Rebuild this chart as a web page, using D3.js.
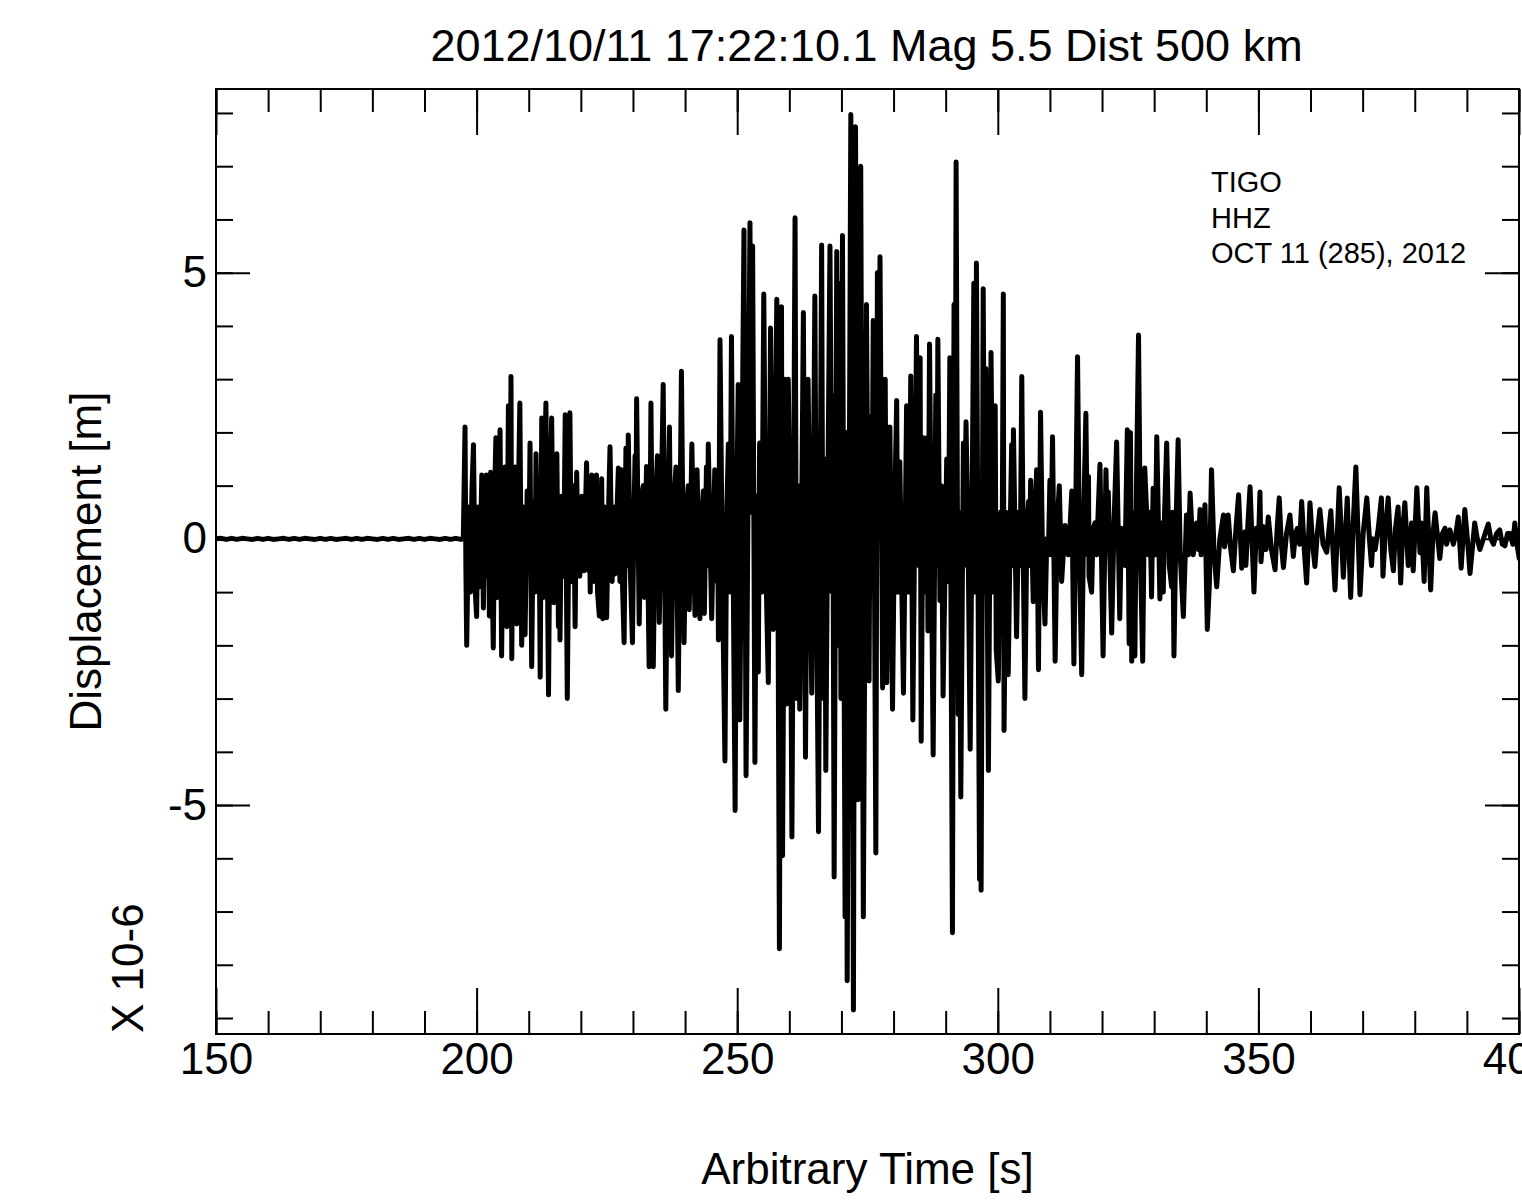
<!DOCTYPE html>
<html><head><meta charset="utf-8">
<script src="https://cdn.jsdelivr.net/npm/d3@7"></script>
<style>html,body{margin:0;padding:0;background:#fff;} svg{display:block;}</style>
</head><body>
<svg id="chart" width="1522" height="1203"></svg>
<script>
// ---------- text ----------
const titleText = "2012/10/11 17:22:10.1 Mag 5.5 Dist 500 km";
const xLabelText = "Arbitrary Time [s]";
const yLabelText = "Displacement [m]";
const yScaleText = "X 10-6";
const stationLines = ["TIGO", "HHZ", "OCT 11 (285), 2012"];
const xMajorTicks = [150, 200, 250, 300, 350, 400];
const yMajorTicks = [-5, 0, 5];

// ---------- data: [time s, displacement x1e-6 m] ----------
const preEvent = [[150,0],[151,0.01],[152,-0.01],[153,0.01],[154,-0.01],[155,0.01],[156,0],[157,-0.01],[158,0.01],[159,-0.01],[160,0.01],[161,-0.01],[162,0],[163,0.01],[164,-0.01],[165,0.01],[166,-0.01],[167,0.01],[168,0],[169,-0.01],[170,0.01],[171,-0.01],[172,0.01],[173,-0.01],[174,0],[175,0.01],[176,-0.01],[177,0.01],[178,-0.01],[179,0.01],[180,0],[181,-0.01],[182,0.01],[183,-0.01],[184,0.01],[185,-0.01],[186,0],[187,0.01],[188,-0.01],[189,0.01],[190,-0.01],[191,0.01],[192,0],[193,-0.01],[194,0.01],[195,-0.01],[196,0.01],[197,-0.01],[197.45,0]];
const seg197 = [[197.78,2.1],[197.95,-0.6],[198.1,-2.0],[198.5,0.6],[198.8,-1.0],[199.1,0.9],[199.4,1.77],[199.7,-0.9],[200.0,-1.46],[200.3,0.6],[200.6,-0.9],[201.0,1.2],[201.3,-1.3],[201.6,0.5],[201.9,1.2],[202.2,-0.7],[202.3,0.4],[202.45,-1.45],[202.7,1.25],[203.0,-0.8],[203.2,-2.05],[203.5,1.0],[203.7,1.9],[204.0,-1.1],[204.3,1.0],[204.5,2.05],[204.8,-2.2],[205.1,0.6],[205.45,1.35],[205.8,-1.65],[206.1,2.5],[206.35,-0.8],[206.6,3.05],[206.75,-2.25],[207.0,0.9],[207.4,1.35],[207.7,-1.6],[208.0,0.7],[208.3,2.55],[208.65,-2.0],[209.0,0.6],[209.3,-1.8],[209.7,0.9],[210.0,-0.6],[210.25,1.8],[210.57,-2.4],[210.9,0.7],[211.2,-1.0],[211.4,1.6],[211.8,-0.9],[212.0,0.3],[212.2,-2.6],[212.5,2.27],[212.8,-1.1],[213.0,1.0],[213.3,2.55],[213.8,-2.93],[214.1,0.8],[214.4,2.27],[214.8,-1.2],[215.1,0.9],[215.4,1.6],[215.7,-1.65],[215.85,0.5],[216.0,-1.9],[216.3,0.8],[216.7,-0.7],[217.0,2.33],[217.4,-3.0],[217.9,2.37],[218.2,-0.8],[218.6,1.0],[218.9,-1.65],[219.2,1.25],[219.5,-0.5],[219.65,0.4],[219.8,-0.7],[220.2,0.8],[220.6,-0.6],[221.1,1.43],[221.5,-0.6],[221.65,0.3],[221.8,-1.0],[222.1,1.2],[222.5,-0.8],[223.0,1.2],[223.2,-1.0],[223.55,-1.45]];
const seg224 = [[224.0,1.13],[224.2,-1.5],[224.6,0.6],[224.95,-1.48],[225.3,0.5],[225.6,1.73],[226.0,-0.8],[226.3,0.6],[226.55,-0.66],[226.9,0.4],[227.2,1.33],[227.5,-0.8],[227.8,1.3],[228.0,-0.9],[228.3,-1.95],[228.65,1.7],[228.85,-0.5],[229.1,1.95],[229.5,-0.6],[229.9,-1.95],[230.2,0.5],[230.4,1.56],[230.55,-0.3],[230.7,2.63],[231.2,-1.6],[231.6,0.8],[232.0,1.0],[232.2,-1.1],[232.6,1.36],[233.1,-2.4],[233.45,2.55],[233.9,-2.4],[234.3,0.6],[234.7,1.56],[235.05,-1.57],[235.4,0.5],[235.8,2.9],[236.3,-3.2],[236.7,0.5],[237.0,2.1],[237.4,-2.2],[237.8,0.6],[238.25,1.35],[238.7,-2.85],[239.3,3.15],[239.8,-1.95],[240.2,0.4],[240.6,1.0],[240.8,-1.33],[241.3,1.78],[241.9,-1.44],[242.3,1.3],[242.85,-1.5],[243.2,0.4],[243.5,0.9],[243.7,-1.4],[244.1,1.35],[244.3,-0.5],[244.45,1.78],[245.1,-1.5],[245.7,1.3],[246.1,-0.8],[246.25,0.3],[246.4,-1.9],[246.7,3.74],[247.2,-1.0],[247.65,-4.17],[248.0,0.5],[248.3,1.78],[248.6,-1.0],[248.9,3.8],[249.3,-1.5],[249.6,-5.1],[249.9,0.5],[250.2,2.9],[250.5,-3.4]];
const seg251 = [[251.3,5.8],[251.7,-4.45],[252.1,1.0],[252.45,5.94],[252.7,0.5],[252.96,5.5],[253.4,-4.2],[253.7,0.8],[254.05,-2.5],[254.3,1.8],[254.7,-1.0],[255.1,4.6],[255.5,-0.5],[255.97,-2.7],[256.4,3.96],[256.9,-1.7],[257.2,0.8],[257.6,4.5],[258.1,-7.7],[258.5,4.36],[258.7,-5.95],[259.2,3.0],[259.5,-3.1],[259.8,3.0],[260.2,-0.5],[260.5,-5.6],[261.1,6.03],[261.4,-3.0],[261.7,1.0],[262.0,-3.2],[262.4,0.8],[262.7,4.25],[263.1,-4.1],[263.6,3.0],[264.3,-2.9],[264.9,4.56],[265.2,-0.8],[265.6,-5.5],[266.2,5.52],[266.5,-3.0],[266.8,1.5],[267.0,-4.35],[267.4,1.0],[267.8,5.5],[268.2,-1.0],[268.3,2.7],[268.6,-6.35],[269.1,5.4],[269.4,-2.0],[269.7,4.8],[269.9,-3.0],[270.2,5.7],[270.7,-7.1],[270.9,2.0],[271.1,-8.3],[271.8,7.97],[272.3,-8.85],[272.7,7.74],[273.2,-4.9],[273.7,7.0],[274.2,-7.1],[274.8,4.4],[275.3,-2.67]];
const seg275 = [[275.55,2.3],[275.8,-1.0],[276.1,4.1],[276.6,-5.9],[276.9,5.0],[277.1,0.0],[277.4,5.3],[277.9,-2.8],[278.4,3.0],[278.7,-2.7],[279.0,0.5],[279.3,2.1],[279.8,-3.2],[280.2,0.5],[280.6,2.6],[280.8,-1.0],[281.2,1.45],[281.9,-2.9],[282.5,2.5],[282.9,-1.0],[283.3,3.06],[283.7,-3.4],[284.4,3.8],[284.75,-0.5],[285.1,3.4],[285.3,-3.8],[285.7,1.9],[286.0,-1.0],[286.4,1.9],[286.6,-1.73],[286.9,3.66],[287.6,-4.06],[288.1,2.7],[288.3,-0.5],[288.5,3.75],[288.9,-1.16],[289.2,1.0],[289.5,-2.95],[290.2,1.5],[290.5,-0.8],[290.8,3.4],[291.3,-7.4],[291.6,4.4],[291.8,-1.0],[292.0,7.08],[292.4,-3.3],[292.6,0.5],[292.9,-4.85],[293.4,1.8],[293.6,-0.5],[293.9,2.2],[294.3,0.0],[294.7,-3.95],[295.4,4.8],[295.7,-1.0],[295.9,5.18],[296.5,-6.4],[296.65,1.0],[296.8,-6.6],[297.2,4.7],[297.5,-1.0],[297.7,3.2],[298.2,-4.35],[298.7,3.5],[299.1,-1.0],[299.5,2.5],[299.7,-2.1],[300.1,-2.67],[300.5,0.5],[300.8,-1.0]];
const seg301 = [[301.06,4.6],[301.2,-3.6],[301.6,0.5],[302.0,-2.55],[302.4,0.3],[302.66,1.77],[302.85,-0.5],[303.0,2.05],[303.6,-1.84],[304.0,0.5],[304.3,-0.5],[304.6,3.05],[304.9,-0.5],[305.2,-3.0],[305.6,0.3],[305.9,0.7],[306.05,-0.5],[306.3,1.1],[306.8,-1.18],[307.1,0.3],[307.45,1.3],[307.8,-2.46],[308.2,2.38],[308.6,-0.5],[309.05,-1.6],[309.4,0.0],[309.7,-0.3],[310.0,1.1],[310.2,-0.3],[310.5,1.92],[311.0,-2.3],[311.4,0.3],[311.8,1.0],[312.25,-0.8],[312.9,0.25],[313.5,-0.3],[313.9,0.3],[314.2,0.9],[314.6,-2.35],[315.3,3.42],[315.7,-0.5],[316.1,-2.55],[316.5,0.5],[316.9,2.36],[317.2,-0.3],[317.4,1.17],[317.5,-0.7],[318.0,-1.0],[318.3,0.2],[318.65,0.3],[318.95,-0.3],[319.6,1.4],[320.2,-2.2],[320.75,1.3],[321.0,0.2],[321.2,0.88],[321.85,-1.77],[322.3,0.3],[322.8,1.82],[323.4,-1.5],[323.7,0.2],[324.1,0.17],[324.4,-0.5],[324.85,2.05],[325.2,-1.97]];
const seg325 = [[325.45,2.0],[325.7,-2.3],[326.0,0.5],[326.3,-2.2],[326.6,1.0],[327.0,3.83],[327.4,-0.5],[327.8,-2.3],[328.2,1.33],[328.9,-0.3],[329.2,0.5],[329.5,-1.09],[329.8,0.95],[330.2,-0.3],[330.5,1.92],[331.1,-1.13],[331.4,0.3],[331.75,-1.0],[332.0,0.5],[332.4,1.8],[332.9,-0.5],[333.35,-0.9],[333.55,0.5],[333.8,-2.2],[334.2,0.3],[334.6,1.86],[335.0,-0.3],[335.6,-1.46],[336.2,0.45],[336.55,-0.3],[336.9,0.86],[337.5,-0.3],[338.15,0.3],[338.5,-0.2],[338.8,0.55],[339.0,-0.3],[339.75,0.64],[340.2,-1.7],[340.6,-0.83],[341.0,1.3],[341.5,-0.3],[342.0,-0.9],[342.6,0.0],[343.3,0.45],[343.5,-0.15],[343.9,0.1],[344.2,0.45],[344.7,-0.2],[345.2,-0.6],[345.7,0.2],[346.2,0.83],[346.8,-0.55],[347.4,0.13],[347.6,-0.5],[348.0,0.3],[348.4,0.98],[349.15,-1.0],[349.6,0.2],[350.0,-0.15]];
const seg350 = [[350.3,0.88],[350.5,-0.43],[350.95,0.23],[351.45,-0.2],[351.9,0.41],[352.5,-0.2],[353.2,-0.58],[353.6,0.2],[354.0,0.77],[354.4,-0.1],[354.8,-0.54],[355.4,0.1],[356.05,0.45],[356.7,-0.33],[357.1,0.1],[357.5,0.2],[357.9,-0.1],[358.3,0.7],[358.8,-0.2],[359.25,-0.83],[359.9,0.68],[360.4,-0.1],[360.85,-0.52],[361.3,0.1],[361.8,0.55],[362.4,-0.1],[363.1,-0.25],[363.9,0.53],[364.3,-0.2],[364.7,-0.96],[365.5,0.96],[366.3,-0.72],[367.05,0.77],[367.7,-1.1],[368.2,0.3],[368.7,1.35],[369.5,-1.05],[370.1,0.1],[370.8,0.77],[371.3,0.0],[371.7,-0.5],[372.0,0.0],[372.4,-0.2],[373.0,0.2],[373.6,0.77],[373.9,-0.7],[374.4,0.2],[374.9,0.77],[375.4,-0.2],[375.9,-0.6],[376.3,0.2],[376.8,0.6]];
const seg377 = [[377.3,-0.83],[377.7,0.2],[378.1,0.68],[378.75,-0.5],[379.4,0.3],[379.7,-0.6],[380.4,0.96],[381.0,-0.26],[381.3,0.3],[381.8,-0.8],[382.3,0.96],[383.05,-0.96],[383.5,0.1],[383.9,0.49],[384.8,-0.37],[385.3,0.1],[385.8,0.2],[386.1,-0.1],[386.75,0.17],[387.4,-0.1],[387.9,0.1],[388.35,0.41],[388.9,-0.55],[389.6,0.55],[390.1,0.0],[390.6,-0.65],[391.5,0.3],[392.0,0.0],[392.5,-0.2],[393.5,0.1],[394.1,0.28],[394.6,0.0],[395.1,-0.1],[395.7,0.1],[396.3,0.17],[396.8,-0.1],[397.3,-0.13],[397.8,0.1],[398.3,0.1],[398.8,-0.1],[399.2,0.3],[399.6,-0.1],[400.05,-0.37]];

const trace = [].concat(preEvent, seg197, seg224, seg251, seg275, seg301, seg325, seg350, seg377);

// ---------- layout ----------
const W = 1522, H = 1203;
const P = {left: 216, right: 1519, top: 89, bottom: 1034};
const FONT = '"Liberation Sans", Arial, Helvetica, sans-serif';

const svg = d3.select('#chart');
svg.append('rect').attr('width', W).attr('height', H).attr('fill', '#fff');

const x = d3.scaleLinear().domain([150, 400]).range([P.left, P.right]);
const y = d3.scaleLinear().domain([-9.30, 8.45]).range([P.bottom, P.top]);

svg.append('clipPath').attr('id', 'plotClip').append('rect')
  .attr('x', P.left).attr('y', P.top).attr('width', P.right - P.left).attr('height', P.bottom - P.top);

svg.append('path')
  .datum(trace)
  .attr('clip-path', 'url(#plotClip)')
  .attr('fill', 'none')
  .attr('stroke', '#000')
  .attr('stroke-width', 5)
  .attr('stroke-linejoin', 'round')
  .attr('stroke-linecap', 'round')
  .attr('d', d3.line().x(d => x(d[0])).y(d => y(d[1])));

function styleAxis(g) {
  g.select('.domain').remove();
  g.selectAll('line').attr('stroke', '#000').attr('stroke-width', 2);
  g.selectAll('text').attr('font-size', 44).attr('font-family', FONT).attr('fill', '#000');
}

const xMinor = d3.range(150, 401, 10);
const yMinor = d3.range(-9, 9, 1);

// bottom
svg.append('g').attr('transform', `translate(0,${P.bottom})`)
  .call(d3.axisBottom(x).tickValues(xMinor).tickSize(-23).tickSizeOuter(0).tickFormat('')).call(styleAxis);
svg.append('g').attr('transform', `translate(0,${P.bottom})`)
  .call(d3.axisBottom(x).tickValues(xMajorTicks).tickSize(-46).tickSizeOuter(0).tickPadding(9).tickFormat(d => String(d))).call(styleAxis);
// top
svg.append('g').attr('transform', `translate(0,${P.top})`)
  .call(d3.axisTop(x).tickValues(xMinor).tickSize(-23).tickSizeOuter(0).tickFormat('')).call(styleAxis);
svg.append('g').attr('transform', `translate(0,${P.top})`)
  .call(d3.axisTop(x).tickValues(xMajorTicks).tickSize(-46).tickSizeOuter(0).tickFormat('')).call(styleAxis);
// left
svg.append('g').attr('transform', `translate(${P.left},0)`)
  .call(d3.axisLeft(y).tickValues(yMinor).tickSize(-17).tickSizeOuter(0).tickFormat('')).call(styleAxis);
svg.append('g').attr('transform', `translate(${P.left},0)`)
  .call(d3.axisLeft(y).tickValues(yMajorTicks).tickSize(-34).tickSizeOuter(0).tickPadding(9).tickFormat(d => String(d))).call(styleAxis);
// right
svg.append('g').attr('transform', `translate(${P.right},0)`)
  .call(d3.axisRight(y).tickValues(yMinor).tickSize(-17).tickSizeOuter(0).tickFormat('')).call(styleAxis);
svg.append('g').attr('transform', `translate(${P.right},0)`)
  .call(d3.axisRight(y).tickValues(yMajorTicks).tickSize(-34).tickSizeOuter(0).tickFormat('')).call(styleAxis);

// frame
svg.append('rect')
  .attr('x', P.left).attr('y', P.top)
  .attr('width', P.right - P.left).attr('height', P.bottom - P.top)
  .attr('fill', 'none').attr('stroke', '#000').attr('stroke-width', 2);

// texts
const cx = (P.left + P.right) / 2;
svg.append('text').attr('x', cx - 1).attr('y', 61).attr('text-anchor', 'middle')
  .attr('font-family', FONT).attr('font-size', 45).text(titleText);
svg.append('text').attr('x', cx).attr('y', 1184).attr('text-anchor', 'middle')
  .attr('font-family', FONT).attr('font-size', 44).text(xLabelText);
svg.append('text').attr('transform', `translate(101,${(P.top + P.bottom) / 2}) rotate(-90)`)
  .attr('text-anchor', 'middle').attr('font-family', FONT).attr('font-size', 44).text(yLabelText);
svg.append('text').attr('transform', `translate(143,1033) rotate(-90)`)
  .attr('text-anchor', 'start').attr('font-family', FONT).attr('font-size', 44).text(yScaleText);

svg.append('g').selectAll('text').data(stationLines).join('text')
  .attr('x', 1211).attr('y', (d, i) => 192 + i * 35.5)
  .attr('font-family', FONT).attr('font-size', 29).text(d => d);
</script>
</body></html>
